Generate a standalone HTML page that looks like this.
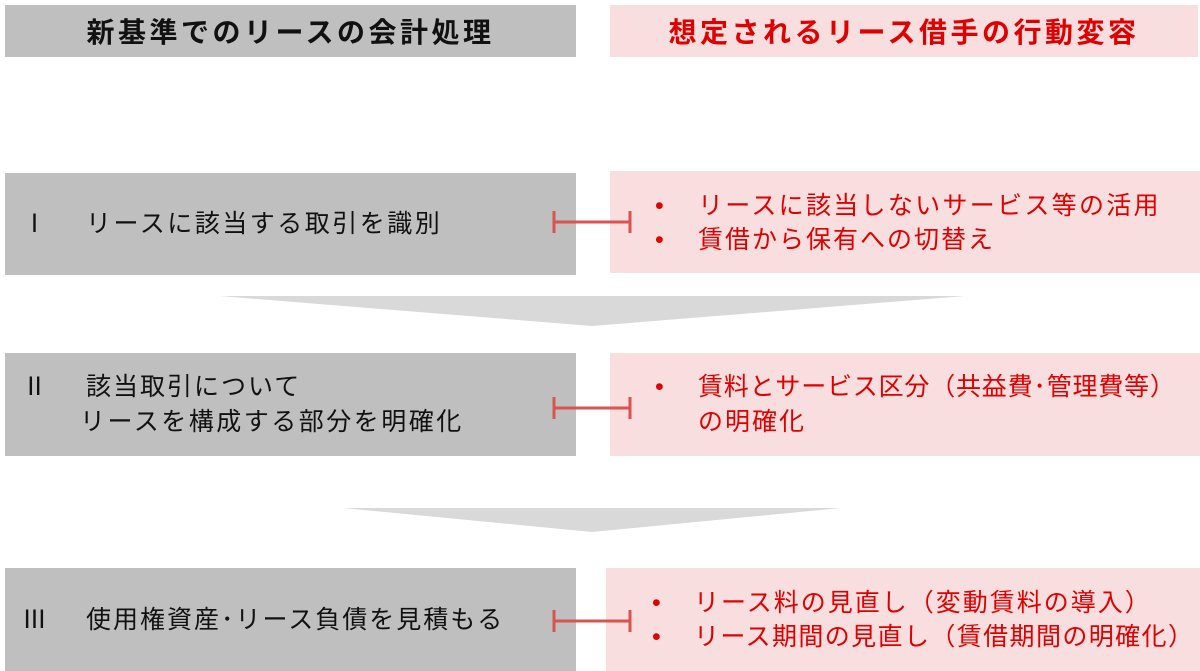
<!DOCTYPE html>
<html><head><meta charset="utf-8"><style>
body{margin:0;width:1200px;height:671px;background:#fff;position:relative;overflow:hidden;font-family:"Liberation Sans","Noto Sans CJK JP",sans-serif}
.b{position:absolute;white-space:nowrap}
.g{background:#bfbfbf}
.p{background:#f9dedf}
.h{font-size:28px;font-weight:bold;display:flex;align-items:center;justify-content:center;letter-spacing:3.5px}
.t{font-size:25px;color:#111;line-height:34px;letter-spacing:2px}
.r{font-size:25px;color:#e00000;line-height:34px;letter-spacing:2px}
</style></head><body>
<div class="b g h" style="left:5px;top:5px;width:571px;height:52px;color:#111">新基準でのリースの会計処理</div>
<div class="b p h" style="left:610px;top:5px;width:588px;height:52px;color:#e00000">想定されるリース借手の行動変容</div>

<div class="b g" style="left:5px;top:173px;width:571px;height:102px"></div>
<div class="b p" style="left:610px;top:171px;width:590px;height:102px"></div>
<div class="b g" style="left:5px;top:353px;width:571px;height:103px"></div>
<div class="b p" style="left:610px;top:353px;width:590px;height:103px"></div>
<div class="b g" style="left:5px;top:568px;width:571px;height:103px"></div>
<div class="b p" style="left:606px;top:568px;width:594px;height:103px"></div>

<svg class="b" style="left:0;top:0" width="1200" height="671">
<polygon points="220,296 965,296 592,326" fill="#d9d9d9"/>
<polygon points="343,508 841,508 592,532" fill="#d9d9d9"/>
<g stroke="#d9534f" stroke-width="3" fill="none">
<path d="M554,222H630M554,211V233M630,211V233"/>
<path d="M554,408H630M554,397V419M630,397V419"/>
<path d="M554,621H630M554,610V632M630,610V632"/>
</g>
</svg>

<div class="b t" style="left:22px;top:207px">Ⅰ</div>
<div class="b t" style="left:86px;top:207px;letter-spacing:2.5px">リースに該当する取引を識別</div>
<div class="b t" style="left:22px;top:370px">Ⅱ</div>
<div class="b t" style="left:86px;top:370px">該当取引について</div>
<div class="b t" style="left:80px;top:405px;letter-spacing:2.5px">リースを構成する部分を明確化</div>
<div class="b t" style="left:22px;top:603px">Ⅲ</div>
<div class="b t" style="left:86px;top:603px">使用権資産･リース負債を見積もる</div>

<div class="b r" style="left:655px;top:189px">•</div>
<div class="b r" style="left:698px;top:189px;letter-spacing:2.3px">リースに該当しないサービス等の活用</div>
<div class="b r" style="left:655px;top:223px">•</div>
<div class="b r" style="left:698px;top:223px">賃借から保有への切替え</div>
<div class="b r" style="left:655px;top:370px">•</div>
<div class="b r" style="left:698px;top:370px;letter-spacing:0.8px">賃料とサービス区分（共益費･管理費等）</div>
<div class="b r" style="left:698px;top:405px">の明確化</div>
<div class="b r" style="left:652px;top:586px">•</div>
<div class="b r" style="left:694px;top:586px;letter-spacing:2px">リース料の見直し（変動賃料の導入）</div>
<div class="b r" style="left:652px;top:620px">•</div>
<div class="b r" style="left:694px;top:620px;letter-spacing:1.4px">リース期間の見直し（賃借期間の明確化）</div>
</body></html>
